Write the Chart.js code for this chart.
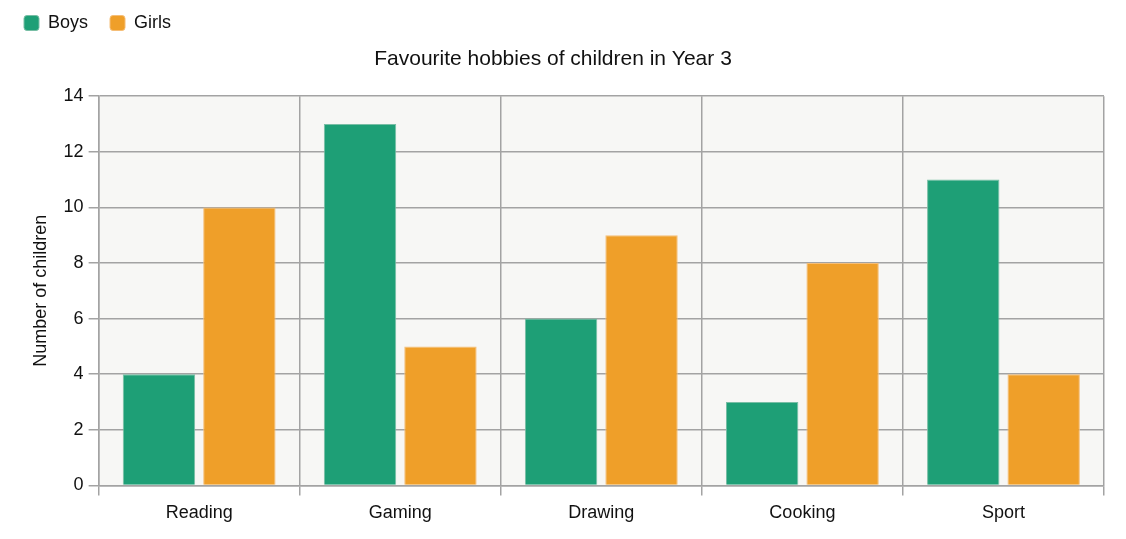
<!DOCTYPE html>
<html>
<head>
<meta charset="utf-8">
<script src="https://cdn.jsdelivr.net/npm/chart.js@4"></script>
<style>
  html, body { margin: 0; padding: 0; background: #fff; }
  #wrap { width: 1126px; height: 539px; }
</style>
</head>
<body>
<div id="wrap"><canvas id="myChart"></canvas></div>
<script>
const hobbies = ['Reading', 'Gaming', 'Drawing', 'Cooking', 'Sport'];
const boys = [4, 13, 6, 3, 11];
const girls = [10, 5, 9, 8, 4];

// fills the plot area with the pale grey
const areaBg = {
  id: 'areaBg',
  beforeDraw(chart) {
    const { ctx, chartArea: a } = chart;
    ctx.save();
    ctx.fillStyle = '#f7f7f5';
    ctx.fillRect(a.left, a.top, a.right - a.left, a.bottom - a.top);
    ctx.restore();
  }
};

Chart.defaults.font.family = 'Arial, "Liberation Sans", sans-serif';
Chart.defaults.color = '#111';

const ctx = document.getElementById('myChart');

new Chart(ctx, {
  type: 'bar',
  data: {
    labels: hobbies,
    datasets: [{
      label: 'Boys',
      data: boys,
      backgroundColor: '#1e9f76',
      borderColor: 'rgba(120,190,165,1)',
      borderWidth: 1
    }, {
      label: 'Girls',
      data: girls,
      backgroundColor: '#ef9f29',
      borderColor: 'rgba(245,190,120,1)',
      borderWidth: 1
    }]
  },
  options: {
    responsive: true,
    maintainAspectRatio: false,
    animation: false,
    layout: { padding: { left: 2, right: 22, top: -8, bottom: 8 } },
    plugins: {
      legend: {
        align: 'start',
        weight: 3000,
        labels: {
          font: { size: 18 },
          boxWidth: 15,
          boxHeight: 15,
          useBorderRadius: true,
          borderRadius: 3,
          padding: 22
        }
      },
      title: {
        display: true,
        text: 'Favourite hobbies of children in Year 3',
        font: { size: 21, weight: 'normal' },
        padding: { top: 5, bottom: 24 }
      },
      tooltip: { enabled: false }
    },
    scales: {
      x: {
        grid: { color: '#a3a3a3', lineWidth: 1.5, offset: true, tickLength: 10 },
        border: { color: '#a3a3a3', width: 1.5 },
        ticks: { font: { size: 18 }, padding: 7 }
      },
      y: {
        min: 0,
        max: 14,
        grid: { color: '#a3a3a3', lineWidth: 1.5, tickLength: 10 },
        border: { color: '#a3a3a3', width: 1.5 },
        ticks: { stepSize: 2, font: { size: 18 }, padding: 5 },
        title: {
          display: true,
          text: 'Number of children',
          font: { size: 18 },
          padding: { top: 28, bottom: 7 }
        }
      }
    }
  },
  plugins: [areaBg]
});
</script>
</body>
</html>
